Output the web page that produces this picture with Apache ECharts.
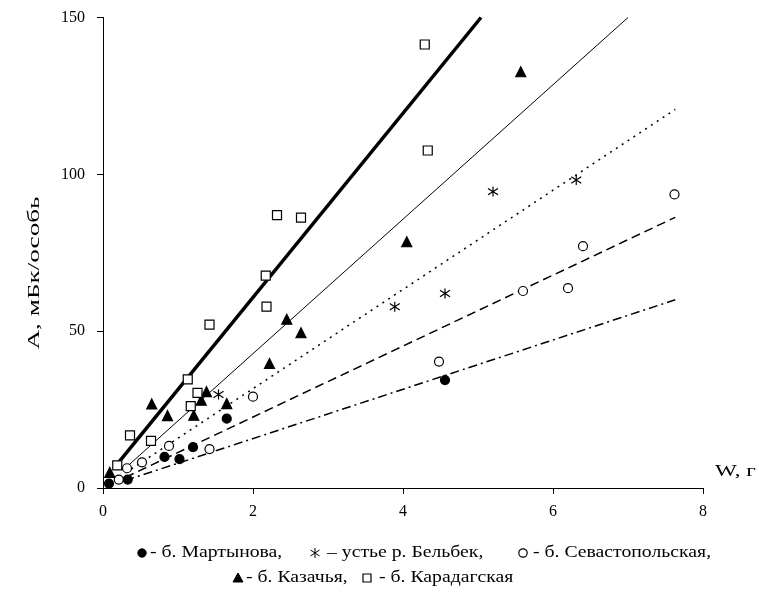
<!DOCTYPE html>
<html>
<head>
<meta charset="utf-8">
<script src="https://cdn.jsdelivr.net/npm/echarts@6/dist/echarts.min.js"></script>
<style>
  html, body { margin: 0; padding: 0; background: #fff; }
  #chart { width: 759px; height: 596px; }
</style>
</head>
<body>
<div id="chart"></div>
<script>
// точки: [W, г ; A, мБк/особь]
const martynova = [[0.08, 1.4], [0.33, 2.7], [0.82, 9.9], [1.02, 9.2], [1.2, 13], [1.65, 22.1], [4.56, 34.4]];
const belbek = [[1.54, 29.8], [3.89, 57.8], [4.56, 62], [5.2, 94.5], [6.31, 98.2]];
const sevastopol = [[0.21, 2.7], [0.32, 6.3], [0.52, 8.2], [0.88, 13.4], [1.42, 12.4], [2.0, 29.1],
	[4.48, 40.3], [5.6, 62.8], [6.2, 63.7], [6.4, 77.1], [7.62, 93.6]];
const kazachya = [[0.09, 5], [0.65, 26.8], [0.86, 23.1], [1.21, 23.2], [1.31, 28], [1.38, 30.7],
	[1.65, 26.9], [2.22, 39.7], [2.45, 53.8], [2.64, 49.5], [4.05, 78.5], [5.57, 132.7]];
const karadag = [[0.19, 7.2], [0.36, 16.8], [0.64, 15], [1.13, 34.6], [1.17, 26.1], [1.26, 30.3],
	[1.42, 52.1], [2.17, 67.7], [2.18, 57.8], [2.32, 87], [2.64, 86.2], [4.29, 141.4], [4.33, 107.6]];

// линии тренда (концы отрезков)
const fitMartynova = [[0.3, 2.4], [7.63, 60]];
const fitBelbek = [[0.3, 4.8], [7.63, 120.7]];
const fitSevastopol = [[0.3, 3.4], [7.63, 86.3]];
const fitKazachya = [[0.3, 6.4], [7.0, 150]];
const fitKaradag = [[0.2, 7.9], [5.04, 150]];

const xTicks = [0, 2, 4, 6, 8];
const yTicks = [0, 50, 100, 150];

const names = ['- б. Мартынова,', '– устье р. Бельбек,', '- б. Севастопольская,', '- б. Казачья,', '- б. Карадагская'];

const FONT = 'Liberation Serif';
const star = 'path://M5 0L5 10M0.8 1.8L9.2 8.2M0.8 8.2L9.2 1.8';

function pointSeries(name, data, symbol, fill, size) {
	return {
		name: name,
		type: 'scatter',
		data: data,
		symbol: symbol,
		symbolSize: size,
		z: 3,
		itemStyle: { color: fill, borderColor: '#000', borderWidth: 1.2, opacity: 1 }
	};
}

function lineSeries(data, width, type) {
	return {
		type: 'line',
		data: data,
		symbol: 'none',
		silent: true,
		z: 2,
		lineStyle: { color: '#000', width: width, type: type }
	};
}

// подписи растянуты по ширине, как в исходном рисунке
function label(x, y, text, size, sx, rot) {
	return {
		type: 'text', x: x, y: y, scaleX: sx, rotation: rot || 0,
		style: { text: text, fontFamily: FONT, fontSize: size, fill: '#000',
			textAlign: rot ? 'center' : 'left', textVerticalAlign: 'middle' }
	};
}

//легенда
const stroke = { fill: '#fff', stroke: '#000', lineWidth: 1.2 };
const solid = { fill: '#000', stroke: '#000', lineWidth: 1 };
function dot(x, y, st) {
	return { type: 'circle', shape: { cx: x, cy: y, r: 4.2 }, style: st };
}
function tri(x, y) {
	return { type: 'polygon', shape: { points: [[x, y - 5], [x + 5, y + 4], [x - 5, y + 4]] }, style: solid };
}
function box(x, y) {
	return { type: 'rect', shape: { x: x - 4, y: y - 4, width: 8, height: 8 }, style: stroke };
}
function aster(x, y) {
	return { type: 'group', children: [
		{ type: 'line', shape: { x1: x, y1: y - 5, x2: x, y2: y + 5 }, style: { stroke: '#000', lineWidth: 1 } },
		{ type: 'line', shape: { x1: x - 4.5, y1: y - 3, x2: x + 4.5, y2: y + 3 }, style: { stroke: '#000', lineWidth: 1 } },
		{ type: 'line', shape: { x1: x - 4.5, y1: y + 3, x2: x + 4.5, y2: y - 3 }, style: { stroke: '#000', lineWidth: 1 } }
	] };
}

const LF = 17, LS = 1.16;
const row1 = 553, row2 = 578;

let chart = echarts.init(document.getElementById('chart'));
chart.setOption({
	backgroundColor: '#fff',
	animation: false,
	grid: { left: 103, top: 17.5, width: 600, height: 470.5 },
	xAxis: {
		type: 'value', min: xTicks[0], max: xTicks[xTicks.length - 1], interval: 2,
		axisLine: { lineStyle: { color: '#000', width: 1 } },
		axisTick: { length: 6, lineStyle: { color: '#000' } },
		splitLine: { show: false },
		axisLabel: { fontFamily: FONT, fontSize: 16, color: '#000', margin: 16 }
	},
	yAxis: {
		type: 'value', min: yTicks[0], max: yTicks[yTicks.length - 1], interval: 50,
		axisLine: { show: true, lineStyle: { color: '#000', width: 1 } },
		axisTick: { show: true, length: 6, lineStyle: { color: '#000' } },
		splitLine: { show: false },
		axisLabel: { fontFamily: FONT, fontSize: 16, color: '#000', margin: 18 }
	},
	graphic: [
		label(35, 273, 'А, мБк/особь', 17, 1.6, Math.PI / 2),
		label(715, 472, 'W, г', 16, 1.45),
		dot(142, row1, solid), label(150, row1, names[0], LF, LS),
		aster(315, row1), label(327, row1, names[1], LF, LS),
		dot(523, row1, stroke), label(533, row1, names[2], LF, LS),
		tri(238, row2), label(246, row2, names[3], LF, LS),
		box(367, row2), label(379, row2, names[4], LF, LS)
	],
	series: [
		lineSeries(fitMartynova, 1.5, [9, 4, 2, 4]),
		lineSeries(fitBelbek, 1.5, [2, 5]),
		lineSeries(fitSevastopol, 1.5, [9, 5]),
		lineSeries(fitKazachya, 1, 'solid'),
		lineSeries(fitKaradag, 3.5, 'solid'),
		pointSeries(names[0], martynova, 'circle', '#000', 9),
		pointSeries(names[1], belbek, star, '#000', 10),
		pointSeries(names[2], sevastopol, 'circle', '#fff', 9),
		pointSeries(names[3], kazachya, 'triangle', '#000', 10),
		pointSeries(names[4], karadag, 'rect', '#fff', 9)
	]
});
</script>
</body>
</html>
